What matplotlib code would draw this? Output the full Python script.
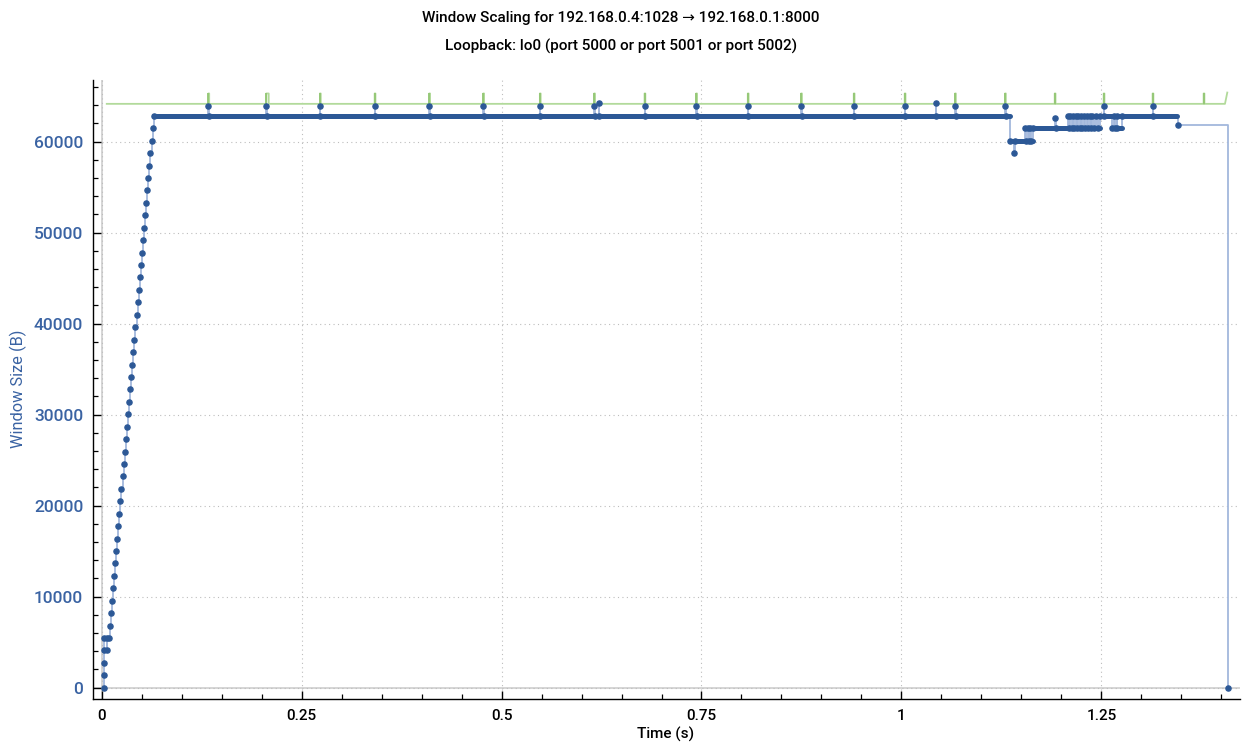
import matplotlib
matplotlib.use("Agg")
import matplotlib.pyplot as plt
from matplotlib.ticker import MultipleLocator, FuncFormatter

plt.rcParams['font.family'] = ['Roboto', 'DejaVu Sans']

TITLE = "Window Scaling for 192.168.0.4:1028 \u2192 192.168.0.1:8000"
SUBTITLE = "Loopback: lo0 (port 5000 or port 5001 or port 5002)"
XLABEL = "Time (s)"
YLABEL = "Window Size (B)"

# ---- Blue series: window samples (time s, bytes) ----
start_t = [0.0027, 0.0027, 0.0029, 0.0029, 0.0029, 0.0066, 0.0066, 0.0096]
start_v = [0, 1366, 2732, 4098, 5464, 4098, 5464, 5464]

ramp_t = [0.0100, 0.0113, 0.0127, 0.0140, 0.0154, 0.0167, 0.0180, 0.0194, 0.0207,
          0.0221, 0.0234, 0.0247, 0.0261, 0.0274, 0.0288, 0.0301, 0.0314, 0.0328,
          0.0341, 0.0355, 0.0368, 0.0381, 0.0395, 0.0408, 0.0422, 0.0435, 0.0448,
          0.0462, 0.0475, 0.0489, 0.0502, 0.0515, 0.0529, 0.0542, 0.0556, 0.0569,
          0.0582, 0.0596, 0.0609, 0.0623, 0.0636, 0.0649]
ramp_v = [6830, 8196, 9562, 10928, 12294, 13660, 15026, 16392, 17758, 19124, 20490,
          21856, 23222, 24588, 25954, 27320, 28686, 30052, 31418, 32784, 34150, 35516,
          36882, 38248, 39614, 40980, 42346, 43712, 45078, 46444, 47810, 49176, 50542,
          51908, 53274, 54640, 56006, 57372, 58738, 60104, 61470, 62836]

plateau_t = [0.1334, 0.1340, 0.2058, 0.2064, 0.2729, 0.2735, 0.3413, 0.3419,
             0.4096, 0.4102, 0.4771, 0.4777, 0.5479, 0.5485, 0.6158, 0.6164,
             0.6217, 0.6223, 0.6788, 0.6794, 0.7434, 0.7440, 0.8079, 0.8085,
             0.8746, 0.8752, 0.9404, 0.9410, 1.0041, 1.0047, 1.0429, 1.0435,
             1.0671, 1.0677, 1.1296, 1.1302]
plateau_v = [63900, 62836, 63900, 62836, 63900, 62836, 63900, 62836,
             63900, 62836, 63900, 62836, 63900, 62836, 63900, 62836,
             64200, 62836, 63900, 62836, 63900, 62836, 63900, 62836,
             63900, 62836, 63900, 62836, 63900, 62836, 64200, 62836,
             63900, 62836, 63900, 62836]

tail_t = [1.1360, 1.1410, 1.1420, 1.1550, 1.1560, 1.1580, 1.1590, 1.1610, 1.1620,
          1.1646, 1.1925, 1.1935,
          1.2079, 1.2094, 1.2113, 1.2128, 1.2146, 1.2161, 1.2179, 1.2194, 1.2213,
          1.2228, 1.2246, 1.2261, 1.2279, 1.2294, 1.2321, 1.2336, 1.2354, 1.2369,
          1.2388, 1.2403, 1.2438, 1.2453,
          1.2488, 1.2529, 1.2535, 1.2634, 1.2660, 1.2666, 1.2690, 1.2696, 1.2759,
          1.3141, 1.3147, 1.3455, 1.4090]
tail_v = [60100, 58770, 60100, 61470, 60100, 61470, 60100, 61470, 60100,
          61470, 62550, 61470,
          62836, 61470, 62836, 61470, 62836, 61470, 62836, 61470, 62836,
          61470, 62836, 61470, 62836, 61470, 62836, 61470, 62836, 61470,
          62836, 61470, 62836, 61470,
          62836, 63900, 62836, 61470, 62836, 61470, 62836, 61470, 62836,
          63900, 62836, 61850, 0]

# dense runs of samples (start s, end s, bytes)
run_start = [0.0649, 1.1360, 1.1550, 1.2079, 1.2488, 1.2634]
run_end = [1.1357, 1.1650, 1.2488, 1.2453, 1.3446, 1.2759]
run_value = [62836, 60100, 61470, 62836, 62836, 61470]

# ---- Green series: receive window ----
rwin_base = 64160
rwin_start, rwin_end = 0.0063, 1.4046
rwin_final_t, rwin_final_v = 1.4075, 65400
spike_t = [0.1334, 0.2058, 0.2729, 0.3413, 0.4096, 0.4771, 0.5479, 0.6158, 0.6788,
           0.7434, 0.8079, 0.8746, 0.9404, 1.0041, 1.0671, 1.1296, 1.1917, 1.2529,
           1.3141, 1.3779]
spike_v = 65300
spike_w = [0.0010, 0.0030, 0.0010, 0.0010, 0.0010, 0.0010, 0.0010, 0.0010, 0.0010,
           0.0010, 0.0010, 0.0010, 0.0010, 0.0010, 0.0010, 0.0010, 0.0010, 0.0010,
           0.0010, 0.0010]

# ---------------------------------------------------------------
W, H = 1243, 747
fig = plt.figure(figsize=(W / 100, H / 100), dpi=100)
ax = fig.add_axes([93 / W, 1 - 699 / H, (1240 - 93) / W, (699 - 80) / H])

DOT = '#2c5896'
LINE = '#a3b8dc'
LABEL_BLUE = '#3a63a3'
GREEN = '#b2da9b'
SPIKE = '#94c775'

# green receive window
gx = [rwin_start]
gy = [rwin_base]
for t, w in zip(spike_t, spike_w):
    gx += [t, t, t + w, t + w]
    gy += [rwin_base, spike_v, spike_v, rwin_base]
gx += [rwin_end, rwin_final_t]
gy += [rwin_base, rwin_final_v]
ax.plot(gx, gy, color=GREEN, lw=1.3, zorder=3)
ax.vlines(spike_t, rwin_base, spike_v, color=SPIKE, lw=1.3, zorder=3)

# blue step series
bt = start_t + ramp_t + plateau_t + tail_t
bv = start_v + ramp_v + plateau_v + tail_v
ax.plot(bt, bv, drawstyle='steps-post', color=LINE, lw=1.3, zorder=4)
for s, e, v in zip(run_start, run_end, run_value):
    ax.plot([s, e], [v, v], color=DOT, lw=3.6, solid_capstyle='round', zorder=5)
ax.plot(bt, bv, ls='none', marker='o', ms=3.7, color=DOT, mec=DOT, zorder=6)

# axes styling
ax.set_xlim(-0.0109, 1.4234)
ax.set_ylim(-1242, 66780)
ax.xaxis.set_major_locator(MultipleLocator(0.25))
ax.xaxis.set_minor_locator(MultipleLocator(0.05))
ax.yaxis.set_major_locator(MultipleLocator(10000))
ax.yaxis.set_minor_locator(MultipleLocator(2000))
ax.xaxis.set_major_formatter(FuncFormatter(lambda v, p: f"{v:g}"))
ax.yaxis.set_major_formatter(FuncFormatter(lambda v, p: f"{v:.0f}"))

for side in ('top', 'right'):
    ax.spines[side].set_visible(False)
for side in ('left', 'bottom'):
    ax.spines[side].set_color('black')
    ax.spines[side].set_linewidth(1.0)

ax.tick_params(axis='both', which='major', direction='in', length=6, width=1, color='black')
ax.tick_params(axis='both', which='minor', direction='in', length=3.5, width=0.9, color='black')
ax.tick_params(axis='y', labelsize=12.5, labelcolor=LABEL_BLUE, pad=7)
ax.tick_params(axis='x', labelsize=11, labelcolor='black', pad=7)
for lab in ax.get_yticklabels():
    lab.set_fontweight('medium')
for lab in ax.get_xticklabels():
    lab.set_fontweight('medium')

ax.grid(True, which='major', ls=(0, (1, 3)), color='#bdbdbd', lw=0.8, zorder=0)
ax.axhline(0, color='#d2d2d2', lw=1.3, zorder=1)
ax.axvline(0, color='#d2d2d2', lw=1.3, zorder=1)

fig.text(621 / W, 1 - 18 / H, TITLE, ha='center', va='center', fontsize=11,
         fontweight='medium', color='black')
fig.text(621 / W, 1 - 46 / H, SUBTITLE, ha='center', va='center', fontsize=11,
         fontweight='medium', color='black')
fig.text(666 / W, 1 - 734 / H, XLABEL, ha='center', va='center', fontsize=11,
         fontweight='medium', color='black')
fig.text(18 / W, 1 - 389 / H, YLABEL, ha='center', va='center', rotation=90,
         fontsize=11.8, color=LABEL_BLUE)

fig.savefig('out.png', dpi=100)
